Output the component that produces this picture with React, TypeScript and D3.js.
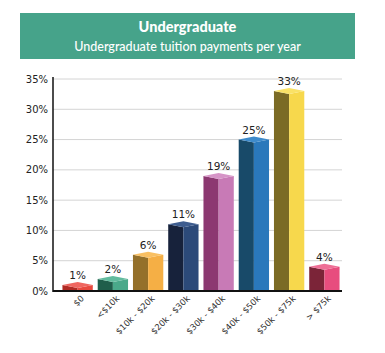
import React from "react";
import * as d3 from "d3";

const categories = ["$0", "<$10k", "$10k - $20k", "$20k - $30k", "$30k - $40k", "$40k - $50k", "$50k - $75k", "> $75k"];
const values = [1, 2, 6, 11, 19, 25, 33, 4];
const darkColors = ["#b02a24", "#1f5e4b", "#94702a", "#17223b", "#8c3871", "#184a69", "#7b6b25", "#7b2438"];
const lightColors = ["#e8493f", "#4aa98a", "#f5af45", "#2c4a79", "#c87ab6", "#2a78bb", "#f7d84c", "#e74d7e"];
const topColors = ["#ef6660", "#62bb9e", "#f9c063", "#3e5d8f", "#d694c7", "#3f8bcb", "#fae266", "#ee6f96"];
const yTicks = [0, 5, 10, 15, 20, 25, 30, 35];
const title = "Undergraduate";
const subtitle = "Undergraduate tuition payments per year";

export default function App() {
  const W = 385, H = 353;
  const left = 53, right = 342, top = 79, bottom = 291;
  const y = d3.scaleLinear().domain([0, 35]).range([bottom, top]);
  const x = d3.scaleBand<string>().domain(categories).range([60, 342]).paddingInner(0.14).paddingOuter(0.07);
  const bw = x.bandwidth();
  const d = 3;
  const font = "DejaVu Sans, Verdana, sans-serif";
  return (
    <svg width={W} height={H} style={{ position: "absolute", left: 0, top: 0, background: "#fff" }}>
      <rect x={20} y={13} width={335} height={46} fill="#46a38a" />
      <text x={187.5} y={32} textAnchor="middle" fill="#fff" fontFamily="Lato, sans-serif" fontWeight={900} fontSize={14.5}>{title}</text>
      <text x={187.5} y={51} textAnchor="middle" fill="#fff" fontFamily="Lato, sans-serif" fontWeight={500} fontSize={12.5}>{subtitle}</text>
      {yTicks.map((t) => (
        <g key={t}>
          {t > 0 && <line x1={left} x2={right} y1={y(t)} y2={y(t)} stroke="#d4d4d4" strokeWidth={1} />}
          <text x={48} y={y(t) + 3.5} textAnchor="end" fontFamily={font} fontSize={10} fill="#222">{t + "%"}</text>
        </g>
      ))}
      {categories.map((c, i) => {
        const x0 = x(c)!;
        const x1 = x0 + bw;
        const xm = x0 + bw / 2;
        const yv = y(values[i]);
        return (
          <g key={c}>
            <path d={`M${x0},${bottom}L${x0},${yv}L${xm},${yv + d}L${xm},${bottom}Z`} fill={darkColors[i]} />
            <path d={`M${xm},${bottom}L${xm},${yv + d}L${x1},${yv}L${x1},${bottom}Z`} fill={lightColors[i]} />
            <path d={`M${x0},${yv}L${xm},${yv - d}L${x1},${yv}L${xm},${yv + d}Z`} fill={topColors[i]} />
            <text x={xm} y={yv - 6} textAnchor="middle" fontFamily={font} fontSize={10.5} fill="#222">{values[i] + "%"}</text>
            <text transform={`translate(${xm + 7},${299}) rotate(-45)`} textAnchor="end" fontFamily={font} fontSize={8.5} fill="#333">{c}</text>
          </g>
        );
      })}
      <line x1={left} x2={left} y1={top - 2} y2={bottom + 1} stroke="#111" strokeWidth={1.5} />
      <line x1={left} x2={right} y1={bottom} y2={bottom} stroke="#111" strokeWidth={2} />
    </svg>
  );
}
